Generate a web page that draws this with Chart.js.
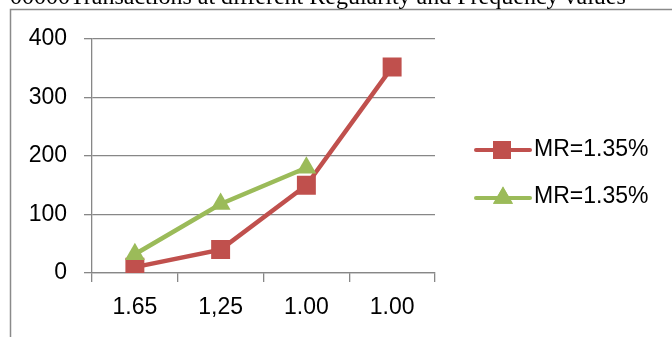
<!DOCTYPE html>
<html>
<head>
<meta charset="utf-8">
<script src="https://cdn.jsdelivr.net/npm/chart.js@4"></script>
<style>
  html, body { margin: 0; padding: 0; background: #fff; }
  canvas { display: block; }
</style>
</head>
<body>
<canvas id="c" width="672" height="337"></canvas>
<script>
const titleText = "00000Transactions at different Regularity and Frequency values";
const categories = ["1.65", "1,25", "1.00", "1.00"];
const seriesNames = ["MR=1.35%", "MR=1.35%"];
const redValues = [10, 40, 150, 352];
const greenValues = [32, 118, 180, null];
const yTicks = [0, 100, 200, 300, 400];

const RED = "#C0504D";
const GREEN = "#9BBB59";
const GRID = "#878787";
const FONT = "'Liberation Sans', Arial, sans-serif";

const framePlugin = {
  id: "frame",
  beforeDraw(chart) {
    const ctx = chart.ctx;
    ctx.save();
    ctx.fillStyle = "#fff";
    ctx.fillRect(0, 0, chart.width, chart.height);
    ctx.strokeStyle = "#8a8a8a";
    ctx.lineWidth = 1.5;
    ctx.beginPath();
    ctx.moveTo(10.5, chart.height + 2);
    ctx.lineTo(10.5, 9.5);
    ctx.lineTo(chart.width + 2, 9.5);
    ctx.stroke();
    ctx.fillStyle = "#000";
    ctx.font = "24px 'Liberation Serif', 'Times New Roman', serif";
    ctx.textBaseline = "alphabetic";
    ctx.textAlign = "left";
    ctx.fillText(titleText, 10, 4);
    ctx.restore();
  }
};

const legendPlugin = {
  id: "customLegend",
  afterDraw(chart) {
    const ctx = chart.ctx;
    const items = [
      { label: seriesNames[0], color: RED, style: "rect", y: 150, ty: 150 },
      { label: seriesNames[1], color: GREEN, style: "triangle", y: 198, ty: 197 }
    ];
    ctx.save();
    items.forEach(it => {
      ctx.strokeStyle = it.color;
      ctx.lineWidth = 4;
      ctx.lineCap = "round";
      ctx.beginPath();
      ctx.moveTo(476, it.y);
      ctx.lineTo(530, it.y);
      ctx.stroke();
      ctx.fillStyle = it.color;
      if (it.style === "rect") {
        ctx.fillRect(493, it.y - 9, 18, 18);
      } else {
        Chart.helpers.drawPoint(ctx, { pointStyle: "triangle", radius: 11.5, borderWidth: 0 }, 503, it.y);
        ctx.fill();
      }
      ctx.fillStyle = "#000";
      ctx.font = "23px " + FONT;
      ctx.textBaseline = "middle";
      ctx.textAlign = "left";
      ctx.fillText(it.label, 534, it.ty);
    });
    ctx.restore();
  }
};

new Chart(document.getElementById("c"), {
  type: "line",
  data: {
    labels: categories,
    datasets: [
      {
        label: seriesNames[0],
        data: redValues,
        borderColor: RED,
        backgroundColor: RED,
        borderWidth: 4.5,
        pointStyle: "rect",
        pointRadius: 13.4,
        pointHoverRadius: 13.4,
        pointBorderWidth: 0,
        order: 1
      },
      {
        label: seriesNames[1],
        data: greenValues,
        borderColor: GREEN,
        backgroundColor: GREEN,
        borderWidth: 4.5,
        pointStyle: "triangle",
        pointRadius: 11.5,
        pointHoverRadius: 11.5,
        pointBorderWidth: 0,
        order: 0
      }
    ]
  },
  options: {
    responsive: false,
    animation: false,
    events: [],
    layout: { padding: { left: 0, top: 39, right: 237, bottom: 0 } },
    plugins: { legend: { display: false }, title: { display: false }, tooltip: { enabled: false } },
    scales: {
      x: {
        type: "category",
        offset: true,
        grid: { offset: true, drawOnChartArea: false, drawTicks: true, tickLength: 9, color: GRID, lineWidth: 1.3 },
        border: { display: true, color: GRID, width: 1.3 },
        ticks: { color: "#000", font: { family: FONT, size: 23 }, padding: 12, maxRotation: 0, autoSkip: false },
        afterFit(scale) { scale.height = 64; }
      },
      y: {
        min: 0,
        max: 400,
        afterBuildTicks(scale) { scale.ticks = yTicks.map(v => ({ value: v })); },
        grid: { color: GRID, lineWidth: 1.3, drawTicks: true, tickLength: 8 },
        border: { display: true, color: GRID, width: 1.3 },
        ticks: { color: "#000", font: { family: FONT, size: 23 }, padding: 17 },
        afterFit(scale) { scale.width = 92; }
      }
    }
  },
  plugins: [framePlugin, legendPlugin]
});
</script>
</body>
</html>
